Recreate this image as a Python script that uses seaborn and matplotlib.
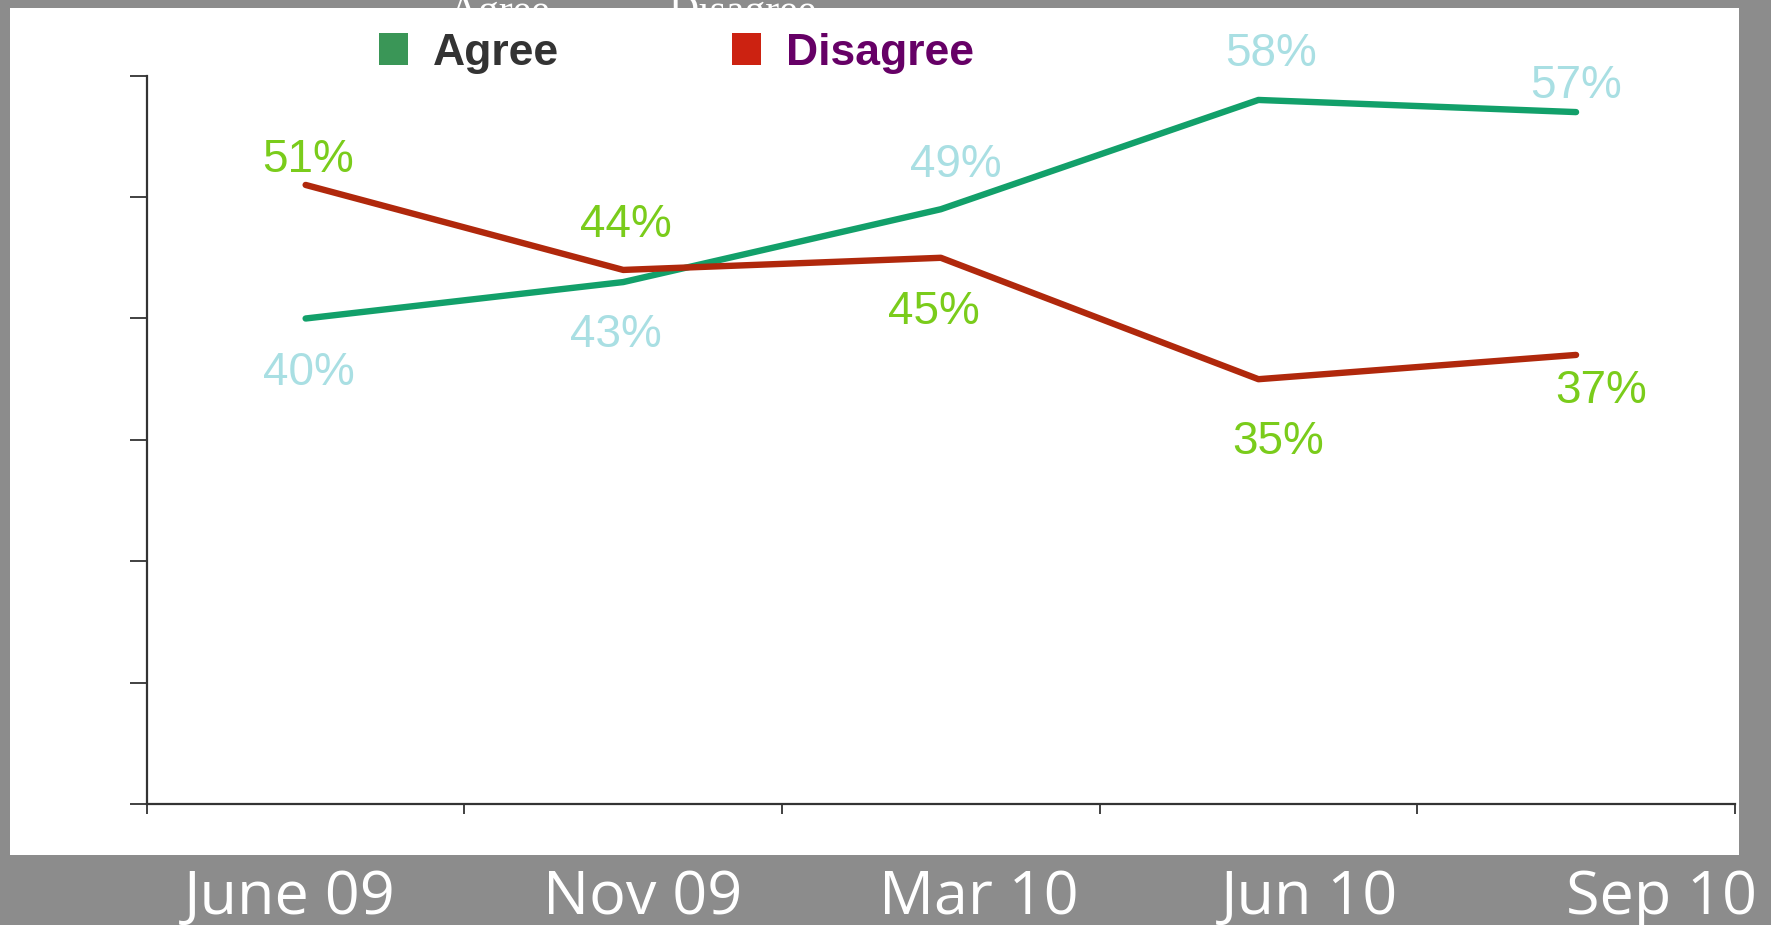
import matplotlib
matplotlib.use('Agg')
import matplotlib.pyplot as plt
from matplotlib.patches import Rectangle, Patch
import seaborn as sns
import pandas as pd

# survey values (%)
periods = ['June 09', 'Nov 09', 'Mar 10', 'Jun 10', 'Sep 10']
agree = [40, 43, 49, 58, 57]
disagree = [51, 44, 45, 35, 37]
series_names = ['Agree', 'Disagree']

# label offsets in points (layout only)
agree_off = [(2, -39), (-5, -38), (11, 32), (9, 33), (0, 19)]
disagree_off = [(2, 18), (2, 32), (-5, -39), (14, -45), (18, -26)]
label_shift = [-0.05, 0.06, 0.12, 0.16, 0.27]

df = pd.DataFrame({
    'period': periods * 2,
    'pos': list(range(len(periods))) * 2,
    'value': agree + disagree,
    'series': ['Agree'] * len(agree) + ['Disagree'] * len(disagree),
})

sns.set_style('white')
plt.rcParams['font.family'] = ['Liberation Sans', 'DejaVu Sans']

fig = plt.figure(figsize=(17.71, 9.25), dpi=100)
fig.patch.set_facecolor('#8c8c8c')

# ghost labels peeking above the white panel
fig.text(397 / 1568, 1 - 20 / 819, 'Agree', family='Liberation Serif', fontsize=30,
         color='white', va='baseline', zorder=0.5)
fig.text(592 / 1568, 1 - 20 / 819, 'Disagree', family='Liberation Serif', fontsize=30,
         color='white', va='baseline', zorder=0.5)

panel = Rectangle((9 / 1568, 1 - 757 / 819), (1540 - 9) / 1568, (757 - 7) / 819,
                  transform=fig.transFigure, facecolor='white', edgecolor='none', zorder=1)
fig.patches.append(panel)

ax = fig.add_axes([130 / 1568, 1 - 712 / 819, (1536 - 130) / 1568, (712 - 67) / 819])
ax.set_zorder(2)
ax.patch.set_alpha(0)

palette = {'Agree': '#12a06a', 'Disagree': '#b0280c'}
sns.lineplot(data=df, x='pos', y='value', hue='series', palette=palette, linewidth=4.6,
             legend=False, ax=ax, sort=False)

for i, v in enumerate(agree):
    ax.annotate(f'{v}%', (i, v), xytext=agree_off[i], textcoords='offset points',
                ha='center', va='center', fontsize=33, color='#a9dfe3', annotation_clip=False)
for i, v in enumerate(disagree):
    ax.annotate(f'{v}%', (i, v), xytext=disagree_off[i], textcoords='offset points',
                ha='center', va='center', fontsize=33, color='#7acc1b', annotation_clip=False)

ax.set_xlim(-0.5, len(periods) - 0.5)
ax.set_ylim(0, 60)
ax.set_yticks(range(0, 61, 10))
ax.set_yticklabels([])
ax.set_xticks([i - 0.5 for i in range(len(periods) + 1)])
ax.set_xticklabels([])
ax.set_xticks([i + s for i, s in enumerate(label_shift)], labels=periods, minor=True)
ax.tick_params(axis='x', which='minor', length=0, pad=46, labelsize=44, labelcolor='white')
for t in ax.get_xticklabels(minor=True):
    t.set_family(['Open Sans', 'DejaVu Sans'])
ax.tick_params(axis='y', which='major', direction='out', length=12, width=1.3, color='#333333', left=True)
ax.tick_params(axis='x', which='major', direction='out', length=7, width=1.3, color='#333333', bottom=True)
ax.set_xlabel('')
ax.set_ylabel('')
for s in ['top', 'right']:
    ax.spines[s].set_visible(False)
for s in ['left', 'bottom']:
    ax.spines[s].set_color('#333333')
    ax.spines[s].set_linewidth(1.6)

handles = [Patch(facecolor='#3a9657', edgecolor='none'), Patch(facecolor='#cc2211', edgecolor='none')]
leg = fig.legend(handles, series_names, loc='center left', bbox_to_anchor=(300 / 1568, 1 - 47 / 819),
                 ncol=2, frameon=False, prop={'family': 'Liberation Sans', 'weight': 'bold', 'size': 32},
                 handlelength=0.66, handleheight=0.72, handletextpad=0.55, columnspacing=3.9)
leg.set_zorder(3)
leg.get_texts()[0].set_color('#333333')
leg.get_texts()[1].set_color('#660066')

fig.savefig('out.png', dpi=100, facecolor=fig.get_facecolor())
